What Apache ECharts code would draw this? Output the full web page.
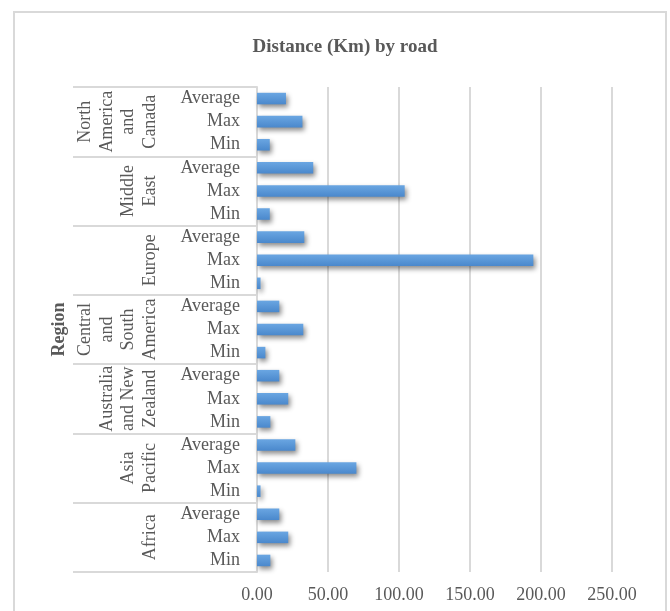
<!DOCTYPE html>
<html>
<head>
<meta charset="utf-8">
<script src="https://cdn.jsdelivr.net/npm/echarts@6/dist/echarts.min.js"></script>
<style>
  html, body { margin: 0; padding: 0; background: #ffffff; }
  #chart { width: 670px; height: 611px; }
</style>
</head>
<body>
<div id="chart"></div>
<script>
// Regions, listed top to bottom
const regions = [
  'North\nAmerica\nand\nCanada',
  'Middle\nEast',
  'Europe',
  'Central\nand\nSouth\nAmerica',
  'Australia\nand New\nZealand',
  'Asia\nPacific',
  'Africa'
];
// Measures within each region, top to bottom
const measures = ['Average', 'Max', 'Min'];
// Road distance (km) per region
const averageKm = [20.4, 39.6, 33.3, 15.7, 15.7, 27.0, 15.7];
const maxKm     = [32.0, 104.0, 194.6, 32.6, 22.0, 70.0, 22.0];
const minKm     = [9.0, 9.0, 2.5, 5.9, 9.4, 2.5, 9.4];
// Value axis ticks
const xTicks = [0, 50, 100, 150, 200, 250];

const serif = "'Liberation Serif', 'Times New Roman', serif";
const textGrey = '#595959';
const lineGrey = '#d9d9d9';

// Flatten region x measure into one category list with matching values
const subCats = [];
const values = [];
regions.forEach((r, i) => {
  const byMeasure = { Average: averageKm[i], Max: maxKm[i], Min: minKm[i] };
  measures.forEach(m => {
    subCats.push(m);
    values.push(byMeasure[m]);
  });
});

const chart = echarts.init(document.getElementById('chart'), null, { renderer: 'canvas' });

chart.setOption({
  animation: false,
  backgroundColor: '#ffffff',
  title: {
    text: 'Distance (Km) by road',
    left: 340,
    textAlign: 'center',
    top: 33,
    textStyle: { fontFamily: serif, fontSize: 19, fontWeight: 'bold', color: textGrey }
  },
  graphic: [{
    type: 'rect',
    shape: { x: 14, y: 12, width: 652, height: 640 },
    style: { fill: 'none', stroke: lineGrey, lineWidth: 2 },
    silent: true
  }],
  grid: { left: 257, right: 58, top: 87, bottom: 39, containLabel: false },
  xAxis: {
    type: 'value',
    min: xTicks[0],
    max: xTicks[xTicks.length - 1],
    interval: xTicks[1] - xTicks[0],
    axisLine: { show: false },
    axisTick: { show: false },
    splitLine: { show: true, lineStyle: { color: lineGrey, width: 2 } },
    axisLabel: {
      margin: 14,
      fontFamily: serif, fontSize: 18, color: textGrey,
      formatter: v => v.toFixed(2)
    }
  },
  yAxis: [
    {
      // measure level labels next to the bars
      type: 'category',
      data: subCats,
      inverse: true,
      position: 'left',
      axisLine: { show: true, lineStyle: { color: lineGrey, width: 2 } },
      axisTick: { show: false },
      axisLabel: {
        interval: 0, margin: 17,
        fontFamily: serif, fontSize: 18, color: textGrey
      }
    },
    {
      // region level labels
      type: 'category',
      data: regions,
      inverse: true,
      position: 'left',
      offset: 82,
      axisLine: { show: false },
      axisTick: { show: false },
      axisLabel: {
        interval: 0, rotate: 90, margin: 14, lineHeight: 21.5,
        fontFamily: serif, fontSize: 18, color: textGrey
      }
    },
    {
      // group separator lines spanning both label levels
      type: 'category',
      data: regions,
      inverse: true,
      position: 'left',
      offset: 184,
      axisLine: { show: false },
      axisTick: { show: true, inside: true, length: 184, lineStyle: { color: lineGrey, width: 2 } },
      axisLabel: { show: false },
      name: 'Region',
      nameLocation: 'middle',
      nameRotate: 90,
      nameGap: 5,
      nameTextStyle: { fontFamily: serif, fontSize: 18, fontWeight: 'bold', color: textGrey }
    }
  ],
  series: [{
    type: 'bar',
    yAxisIndex: 0,
    data: values,
    barWidth: '50%',
    itemStyle: {
      color: new echarts.graphic.LinearGradient(0, 0, 0, 1, [
        { offset: 0, color: '#6aa6e2' },
        { offset: 1, color: '#4a88cc' }
      ]),
      shadowBlur: 5,
      shadowOffsetX: 2,
      shadowOffsetY: 3,
      shadowColor: 'rgba(0,0,0,0.45)'
    }
  }]
});
</script>
</body>
</html>
